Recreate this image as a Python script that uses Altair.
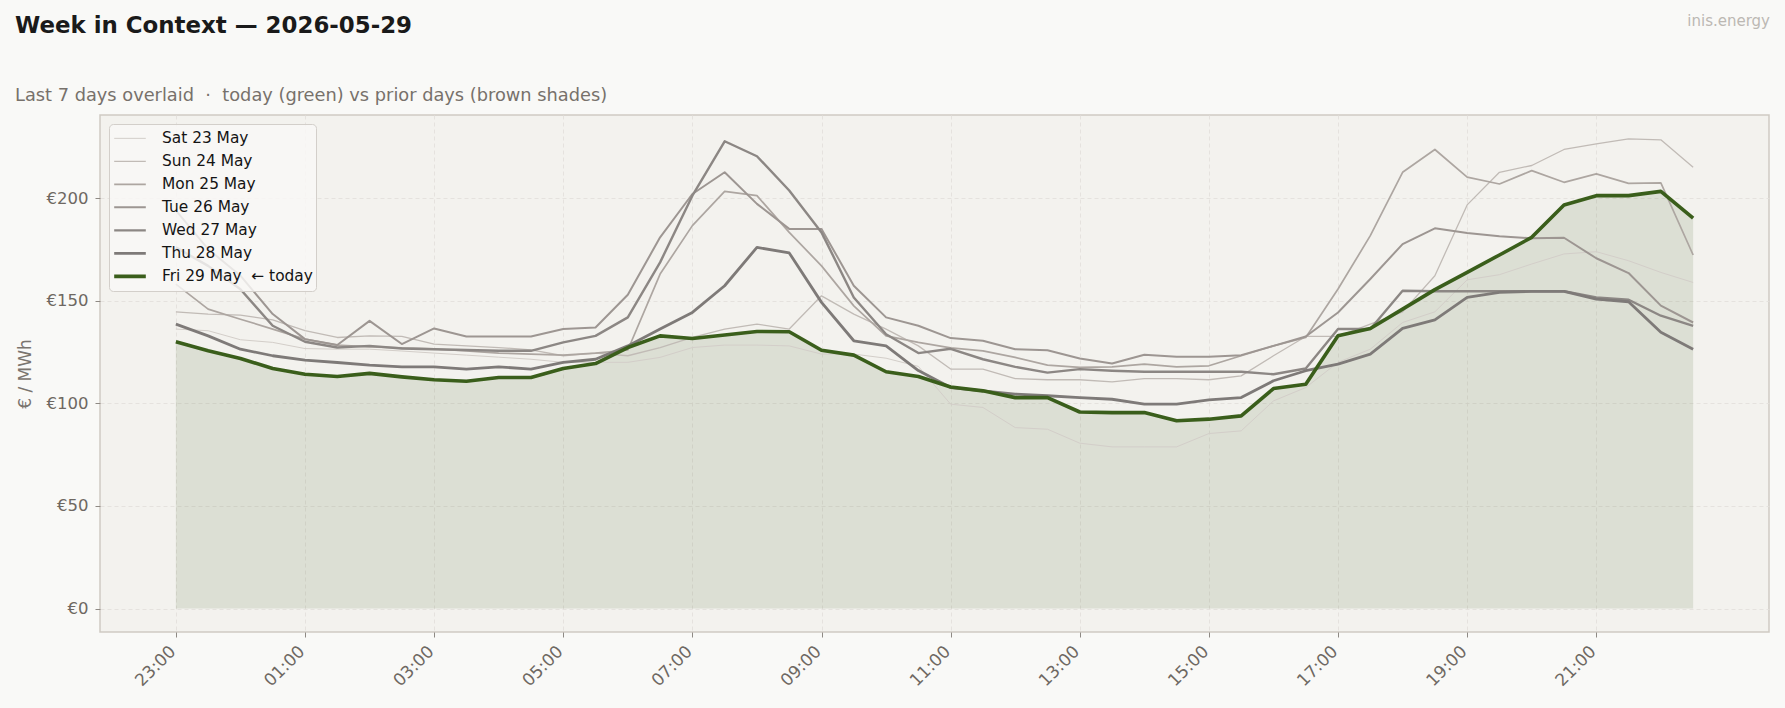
import json
import altair as alt
import pandas as pd

# half-hour slots of the delivery day (23:00 previous day .. 22:30)
slots = ["23:00", "23:30", "00:00", "00:30", "01:00", "01:30", "02:00", "02:30",
         "03:00", "03:30", "04:00", "04:30", "05:00", "05:30", "06:00", "06:30",
         "07:00", "07:30", "08:00", "08:30", "09:00", "09:30", "10:00", "10:30",
         "11:00", "11:30", "12:00", "12:30", "13:00", "13:30", "14:00", "14:30",
         "15:00", "15:30", "16:00", "16:30", "17:00", "17:30", "18:00", "18:30",
         "19:00", "19:30", "20:00", "20:30", "21:00", "21:30", "22:00", "22:30"]
tick_labels = ["23:00", "01:00", "03:00", "05:00", "07:00", "09:00",
               "11:00", "13:00", "15:00", "17:00", "19:00", "21:00"]
y_ticks = [0, 50, 100, 150, 200]

days = ["Sat 23 May", "Sun 24 May", "Mon 25 May", "Tue 26 May",
        "Wed 27 May", "Thu 28 May", "Fri 29 May\u00a0 \u2190 today"]
colors = ["#d3cec9", "#c1bbb6", "#ada6a1", "#9d9692", "#8c8784", "#7e7a78", "#3a5e1b"]
widths = [1.0, 1.3, 1.7, 2.0, 2.4, 2.8, 3.6]

sat = [136.2, 135.4, 131.0, 129.7, 126.7, 126.4, 126.4, 125.5, 124.5, 123.5, 122.5, 121.5,
       120.0, 120.0, 120.0, 122.4, 127.2, 128.4, 128.4, 128.0, 124.0, 124.0, 122.0, 118.0,
       99.6, 98.0, 88.2, 87.4, 80.6, 78.8, 78.8, 78.8, 85.3, 86.6, 101.2, 107.7,
       120.0, 126.4, 139.4, 144.6, 160.2, 162.7, 167.9, 172.8, 173.9, 169.5, 163.8, 158.9]
sun = [144.6, 143.5, 143.0, 140.7, 135.4, 132.1, 132.9, 132.6, 128.9, 128.0, 127.2, 126.1,
       123.2, 124.5, 123.2, 127.2, 132.1, 136.2, 138.6, 136.2, 152.4, 143.5, 136.2, 128.0,
       116.7, 116.7, 112.1, 111.5, 111.5, 110.5, 112.1, 112.1, 111.5, 113.4, 123.2, 132.6,
       132.6, 138.6, 144.6, 162.2, 196.7, 212.6, 215.9, 223.7, 226.4, 228.9, 228.4, 215.0]
mon = [158.1, 145.9, 141.0, 136.2, 131.3, 128.4, 127.5, 127.0, 126.5, 125.5, 124.5, 124.0,
       123.5, 124.5, 126.0, 163.0, 186.6, 203.3, 201.2, 183.3, 167.0, 147.5, 132.9, 129.7,
       127.0, 125.6, 122.4, 118.6, 117.5, 117.8, 119.1, 117.8, 118.3, 123.2, 128.0, 132.1,
       155.7, 181.7, 212.6, 223.7, 210.2, 206.9, 213.4, 207.7, 211.8, 207.2, 207.4, 172.3]
tue = [194.0, 175.2, 162.2, 143.5, 131.3, 128.4, 140.2, 128.9, 136.5, 132.6, 132.6, 132.6,
       136.2, 137.0, 152.9, 180.9, 202.0, 212.6, 197.2, 185.0, 185.0, 157.3, 141.9, 137.8,
       131.8, 130.5, 126.4, 125.9, 121.9, 119.4, 123.7, 122.7, 122.7, 123.5, 128.0, 132.6,
       144.3, 160.6, 177.6, 185.3, 183.0, 181.4, 180.4, 180.7, 170.7, 163.5, 147.6, 139.4]
wed = [176.0, 167.0, 155.6, 137.8, 130.0, 127.2, 128.0, 126.7, 126.4, 126.0, 125.6, 125.6,
       129.7, 132.9, 141.9, 168.7, 201.2, 227.7, 220.4, 203.7, 183.3, 151.6, 133.7, 124.5,
       126.6, 121.5, 117.8, 115.0, 116.7, 115.9, 115.4, 115.4, 115.4, 115.4, 114.2, 117.0,
       136.2, 136.2, 154.9, 154.6, 154.6, 154.6, 154.6, 154.6, 151.6, 150.5, 142.7, 137.8]
thu = [138.6, 132.9, 126.4, 123.2, 121.1, 119.9, 118.6, 117.8, 117.8, 116.7, 117.8, 116.7,
       120.0, 121.5, 128.0, 136.2, 144.3, 157.3, 176.0, 173.3, 149.2, 130.5, 128.0, 116.0,
       107.7, 106.1, 104.5, 103.7, 102.8, 102.0, 99.6, 99.6, 101.7, 102.8, 111.0, 115.9,
       119.1, 124.0, 136.5, 140.7, 151.6, 154.1, 154.6, 154.6, 150.8, 149.5, 134.6, 126.4]
fri = [130.0, 125.6, 121.9, 117.0, 114.2, 113.1, 114.6, 112.9, 111.5, 110.8, 112.6, 112.6,
       117.0, 119.4, 127.2, 132.9, 131.6, 133.3, 135.0, 134.9, 125.9, 123.5, 115.4, 113.1,
       108.0, 106.1, 102.8, 102.8, 95.8, 95.5, 95.5, 91.5, 92.3, 93.9, 107.2, 109.3,
       132.9, 136.5, 145.9, 155.4, 163.8, 172.3, 180.9, 196.7, 201.2, 201.2, 203.3, 190.2]

series = [sat, sun, mon, tue, wed, thu, fri]
today = days[-1]

title_text = "Week in Context — 2026-05-29"
subtitle_text = "Last 7 days overlaid \u00a0·\u00a0 today (green) vs prior days (brown shades)"
brand_text = "inis.energy"

rows = []
for d, vals in zip(days, series):
    for i, (s, v) in enumerate(zip(slots, vals)):
        rows.append({"day": d, "slot": s, "h": i * 0.5, "price": v})
df = pd.DataFrame(rows)

W, H = 1669, 517
FONT = "DejaVu Sans"

x_enc = alt.X("h:Q",
              scale=alt.Scale(domain=[-1.175, 24.675], nice=False, zero=False),
              axis=alt.Axis(values=[2 * k for k in range(len(tick_labels))],
                            labelExpr=f"{json.dumps(tick_labels)}[round(datum.value / 2)]",
                            labelAngle=-45, labelAlign="right", labelBaseline="top",
                            labelPadding=6, labelOffset=-9, labelFontSize=17,
                            title=None))
y_enc = alt.Y("price:Q",
              scale=alt.Scale(domain=[-11.4, 240.5], nice=False, zero=False),
              axis=alt.Axis(values=y_ticks, labelExpr="'€' + datum.value",
                            title="€ / MWh", titlePadding=12, labelPadding=7))

leg = alt.Legend(title=None, orient="none", legendX=9, legendY=9,
                 symbolType="stroke", symbolSize=1000, labelFontSize=15.4,
                 labelColor="#141414", labelFont=FONT,
                 fillColor="rgba(249,248,246,0.82)",
                 strokeColor="#d3cfca", cornerRadius=4, padding=3,
                 rowPadding=0, clipHeight=22.7, labelOffset=14)
color_enc = alt.Color("day:O", scale=alt.Scale(type="ordinal", domain=days, range=colors),
                      legend=leg)
width_enc = alt.StrokeWidth("day:O", scale=alt.Scale(type="ordinal", domain=days, range=widths),
                            legend=leg)

base = alt.Chart(df)
area = base.transform_filter(alt.datum.day == today).mark_area(
    color="#3a5e1b", opacity=0.12).encode(x=x_enc, y=y_enc, y2=alt.datum(0))
grey = base.transform_filter(alt.datum.day != today).mark_line(strokeJoin="round").encode(
    x=x_enc, y=y_enc, color=color_enc, strokeWidth=width_enc)
green = base.transform_filter(alt.datum.day == today).mark_line(strokeJoin="round").encode(
    x=x_enc, y=y_enc, color=color_enc, strokeWidth=width_enc)

title = alt.Chart(alt.Data(values=[{"t": title_text}])).mark_text(
    align="left", baseline="alphabetic", fontSize=22.9, fontWeight="bold",
    color="#1a1a1a", font=FONT
).encode(text="t:N", x=alt.value(-85), y=alt.value(-81.7))
subtitle = alt.Chart(alt.Data(values=[{"t": subtitle_text}])).mark_text(
    align="left", baseline="alphabetic", fontSize=17.8, color="#77716b", font=FONT
).encode(text="t:N", x=alt.value(-85), y=alt.value(-14.3))
brand = alt.Chart(alt.Data(values=[{"t": brand_text}])).mark_text(
    align="right", baseline="alphabetic", fontSize=15, color="#bcb8b3", font=FONT
).encode(text="t:N", x=alt.value(W + 1), y=alt.value(-89))

chart = alt.layer(area, grey, green, title, subtitle, brand).properties(
    width=W, height=H,
    autosize=alt.AutoSizeParams(type="none"),
    padding={"left": 100, "top": 115, "right": 16, "bottom": 76},
    background="#f9f9f7",
).configure_view(
    fill="#f3f2ee", stroke="#cfcac3", strokeWidth=1.5
).configure_axis(
    domain=False, gridColor="#e3e0db", gridDash=[4, 3], gridWidth=0.9,
    tickColor="#8e8984", tickSize=5, labelColor="#6e6862", labelFontSize=16.5,
    labelFont=FONT, titleFont=FONT, titleFontSize=17, titleFontWeight="normal",
    titleColor="#7a746e"
)

chart.save("out.html", embed_options={"renderer": "svg", "actions": False})
